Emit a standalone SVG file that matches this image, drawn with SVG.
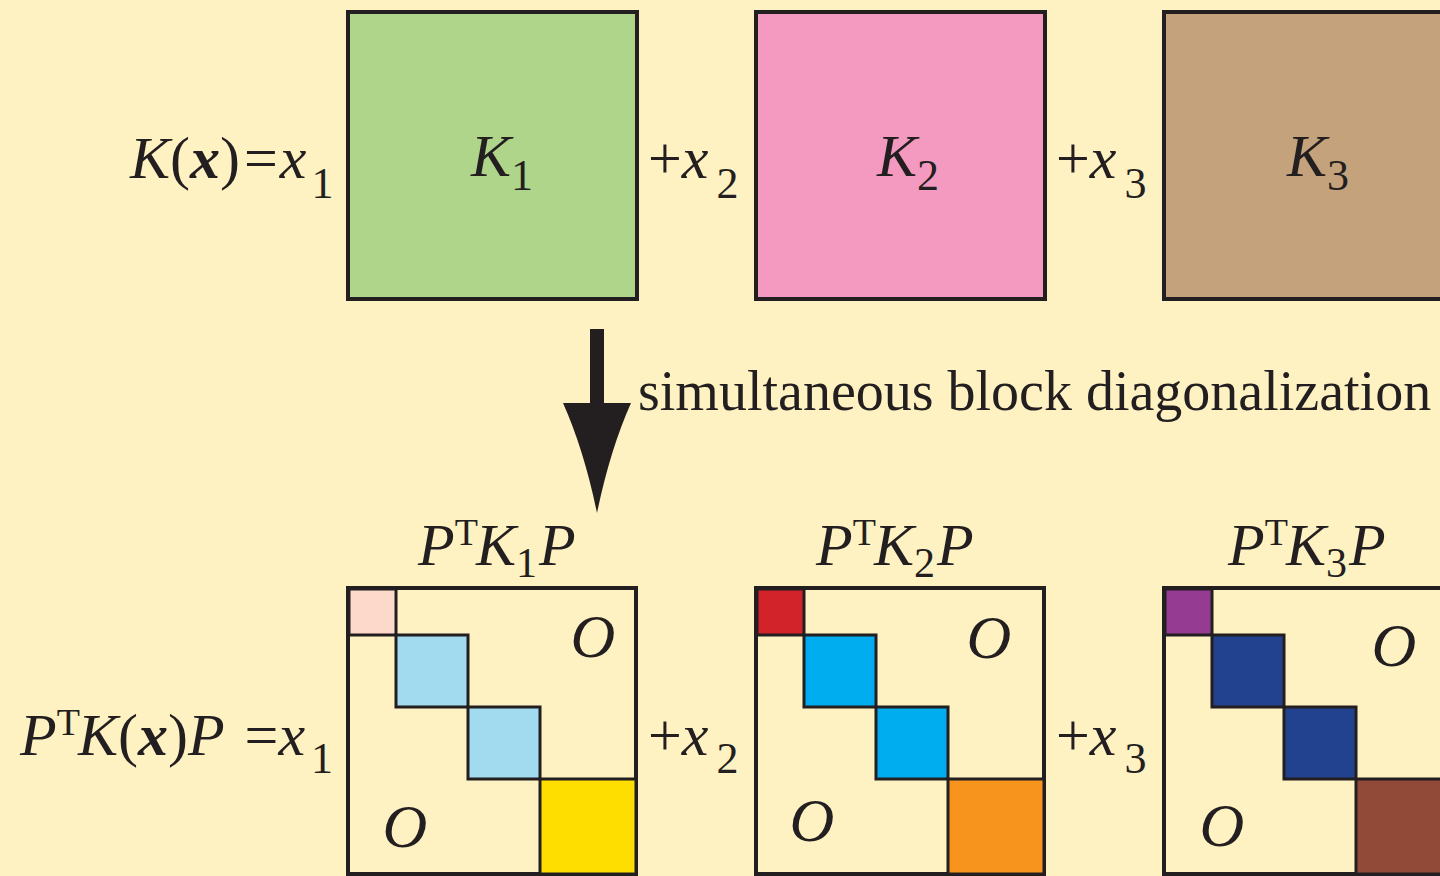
<svg xmlns="http://www.w3.org/2000/svg" width="1440" height="876" viewBox="0 0 1440 876">
<style>
text{font-family:"Liberation Serif","Times New Roman",serif;fill:#231F20}
.i{font-style:italic}
.b{font-weight:bold;font-style:italic}
.big{stroke:#231F20;stroke-width:4}
.blk{stroke:#231F20;stroke-width:3}
.eq{font-size:60px}
.sub{font-size:44px}
.o{font-size:62px;font-style:italic;text-anchor:middle}
.lab{font-size:60px}
</style>
<rect width="1440" height="876" fill="#FEF1C2"/>
<g id="eq-top">
<text class="eq" x="130" y="178"><tspan class="i">K</tspan><tspan>(</tspan><tspan class="b">x</tspan><tspan>)</tspan><tspan dx="4">=</tspan><tspan class="i" dx="2">x</tspan><tspan class="sub" dx="5" dy="20">1</tspan></text>
</g>
<g id="K1">
<rect class="big" x="348" y="12" width="289" height="287" fill="#AED58A"/>
<text class="lab" x="471" y="176"><tspan class="i">K</tspan><tspan class="sub" dy="14" font-size="42">1</tspan></text>
</g>
<g id="plus-x2-top"><text class="eq" x="648" y="178"><tspan>+</tspan><tspan class="i">x</tspan><tspan class="sub" dx="8" dy="20">2</tspan></text></g>
<g id="K2">
<rect class="big" x="756" y="12" width="289" height="287" fill="#F49AC1"/>
<text class="lab" x="877" y="176"><tspan class="i">K</tspan><tspan class="sub" dy="14" font-size="42">2</tspan></text>
</g>
<g id="plus-x3-top"><text class="eq" x="1056" y="178"><tspan>+</tspan><tspan class="i">x</tspan><tspan class="sub" dx="8" dy="20">3</tspan></text></g>
<g id="K3">
<rect class="big" x="1164" y="12" width="300" height="287" fill="#C4A27C"/>
<text class="lab" x="1287" y="176"><tspan class="i">K</tspan><tspan class="sub" dy="14" font-size="42">3</tspan></text>
</g>
<g id="connectors">
<path d="M590,329 H604 V403 H631 Q610,450 597,513 Q584,450 563,403 H590 Z" fill="#231F20"/>
<text x="638" y="410" font-size="56">simultaneous block diagonalization</text>
</g>
<g id="eq-bottom">
<text class="eq" x="20" y="755"><tspan class="i">P</tspan><tspan font-size="38" dx="0" dy="-20">T</tspan><tspan class="i" dx="-2" dy="20">K</tspan><tspan>(</tspan><tspan class="b">x</tspan><tspan>)</tspan><tspan class="i">P</tspan><tspan dx="20">=</tspan><tspan class="i">x</tspan><tspan class="sub" dx="6" dy="18">1</tspan></text>
</g>
<g id="PK1P">
<text class="lab" x="418" y="565"><tspan class="i">P</tspan><tspan font-size="38" dx="0" dy="-20">T</tspan><tspan class="i" dx="-2" dy="20">K</tspan><tspan font-size="42" dy="12">1</tspan><tspan class="i" dy="-12" dx="2">P</tspan></text>
<rect class="big" x="348" y="588" width="288" height="286" fill="#FEF1C2"/>
<rect class="blk" x="349" y="589" width="47" height="46" fill="#FDD9CC"/>
<rect class="blk" x="396" y="635" width="72" height="72" fill="#A2DBEF"/>
<rect class="blk" x="468" y="707" width="72" height="72" fill="#A2DBEF"/>
<rect class="blk" x="540" y="779" width="96" height="95" fill="#FEDD00"/>
<text class="o" x="593" y="657">O</text>
<text class="o" x="405" y="847">O</text>
</g>
<g id="plus-x2-bottom"><text class="eq" x="648" y="755"><tspan>+</tspan><tspan class="i">x</tspan><tspan class="sub" dx="8" dy="18">2</tspan></text></g>
<g id="PK2P">
<text class="lab" x="816" y="565"><tspan class="i">P</tspan><tspan font-size="38" dx="0" dy="-20">T</tspan><tspan class="i" dx="-2" dy="20">K</tspan><tspan font-size="42" dy="12">2</tspan><tspan class="i" dy="-12" dx="2">P</tspan></text>
<rect class="big" x="756" y="588" width="288" height="286" fill="#FEF1C2"/>
<rect class="blk" x="757" y="589" width="47" height="46" fill="#D2232A"/>
<rect class="blk" x="804" y="635" width="72" height="72" fill="#00AEEF"/>
<rect class="blk" x="876" y="707" width="72" height="72" fill="#00AEEF"/>
<rect class="blk" x="948" y="779" width="96" height="95" fill="#F7941D"/>
<text class="o" x="989" y="658">O</text>
<text class="o" x="812" y="841">O</text>
</g>
<g id="plus-x3-bottom"><text class="eq" x="1056" y="755"><tspan>+</tspan><tspan class="i">x</tspan><tspan class="sub" dx="8" dy="18">3</tspan></text></g>
<g id="PK3P">
<text class="lab" x="1228" y="565"><tspan class="i">P</tspan><tspan font-size="38" dx="0" dy="-20">T</tspan><tspan class="i" dx="-2" dy="20">K</tspan><tspan font-size="42" dy="12">3</tspan><tspan class="i" dy="-12" dx="2">P</tspan></text>
<rect class="big" x="1164" y="588" width="300" height="286" fill="#FEF1C2"/>
<rect class="blk" x="1165" y="589" width="47" height="46" fill="#963B92"/>
<rect class="blk" x="1212" y="635" width="72" height="72" fill="#22418F"/>
<rect class="blk" x="1284" y="707" width="72" height="72" fill="#22418F"/>
<rect class="blk" x="1356" y="779" width="108" height="95" fill="#924A38"/>
<text class="o" x="1394" y="666">O</text>
<text class="o" x="1222" y="846">O</text>
</g>
</svg>
